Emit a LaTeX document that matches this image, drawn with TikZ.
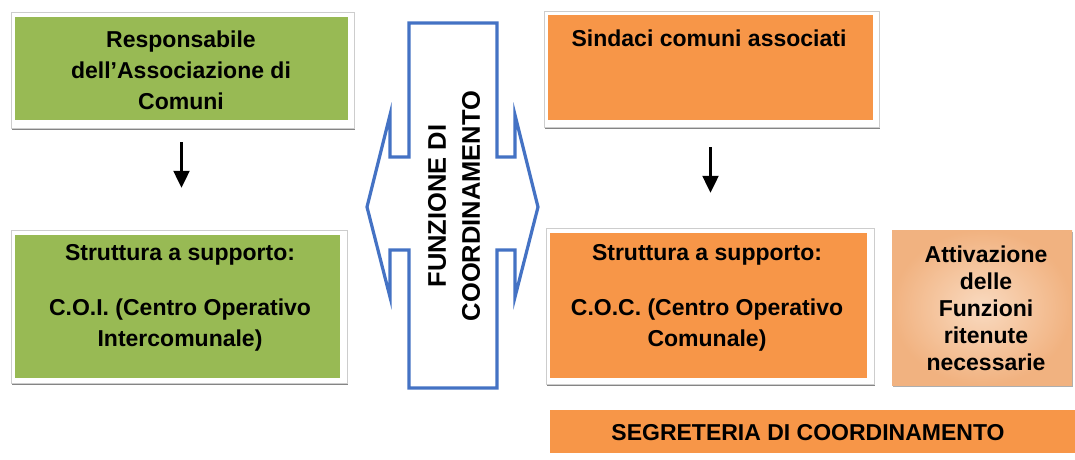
\documentclass[tikz,border=0pt]{standalone}
\usepackage{fontspec}
\setmainfont{Liberation Sans}
\usetikzlibrary{arrows.meta,shadows,calc}
\definecolor{boxgreen}{RGB}{152,186,84}
\definecolor{boxorange}{RGB}{247,150,72}
\definecolor{lightin}{RGB}{249,218,192}
\definecolor{lightout}{RGB}{241,178,128}
\definecolor{arrowblue}{RGB}{68,114,196}
\definecolor{framegray}{RGB}{205,205,205}
\definecolor{shadowgray}{RGB}{120,120,120}
\begin{document}
\begin{tikzpicture}[x=1pt,y=-1pt,
  frm/.style={draw=framegray, fill=white, line width=0.8pt,
    drop shadow={shadow xshift=0.5pt, shadow yshift=-2pt, fill=shadowgray, opacity=0.9}},
  colbox/.style={rectangle, inner sep=0pt, draw=none},
  gbox/.style={colbox, fill=boxgreen},
  obox/.style={colbox, fill=boxorange},
  lbox/.style={colbox, inner color=lightin, outer color=lightout},
  txt/.style={inner sep=0pt, align=center, font=\bfseries\fontsize{23}{31}\selectfont},
  txtsmall/.style={inner sep=0pt, align=center, font=\bfseries\fontsize{23}{27}\selectfont},
  downarrow/.style={draw=black, fill=black, line width=2.2pt, -{Triangle[length=17pt,width=16pt]}},
  bluearrow/.style={draw=arrowblue, line width=3.2pt, line join=miter, fill=white}
]
\useasboundingbox[fill=white] (0,0) rectangle (1075,459);

% frames
\path[frm] (11,12) rectangle (354,128);
\path[frm] (11,230) rectangle (347,383);
\path[frm] (544,11) rectangle (879,127);
\path[frm] (546,228) rectangle (874,384);

% green boxes
\node[gbox, minimum width=333pt, minimum height=103pt] (g1) at (181.5,68.5) {};
\node[gbox, minimum width=325pt, minimum height=143pt] (g2) at (177.5,306.5) {};
% orange boxes
\node[obox, minimum width=325pt, minimum height=105pt] (o1) at (710.5,67.5) {};
\node[obox, minimum width=317pt, minimum height=145pt] (o2) at (708.5,305.5) {};
\node[lbox, minimum width=180pt, minimum height=155pt,
  drop shadow={shadow xshift=0.5pt, shadow yshift=-2pt, fill=shadowgray, opacity=0.6}] (o3) at (982,307.5) {};
\node[obox, minimum width=525pt, minimum height=43pt] (seg) at (812.5,431.5) {};

% texts
\node[txt] (g1t) at (181,70) {Responsabile\\dell’Associazione di\\Comuni};
\node[txt] (g2t) at (180,298) {Struttura a supporto:\\[24pt]C.O.I. (Centro Operativo\\Intercomunale)};
\node[txt] (o1t) at (709,38) {Sindaci comuni associati};
\node[txt] (o2t) at (707,298) {Struttura a supporto:\\[24pt]C.O.C. (Centro Operativo\\Comunale)};
\node[txtsmall] (o3t) at (986,308.5) {Attivazione\\delle\\Funzioni\\ritenute\\necessarie};
\node[txt] (segt) at (808,433) {SEGRETERIA DI COORDINAMENTO};

% down arrows
\draw[downarrow, shorten <=22pt, shorten >=47pt] (g1.south) -- (g1.south |- g2.north);
\draw[downarrow, shorten <=27pt, shorten >=40pt] (o1.south) -- (o1.south |- o2.north);

% blue double arrow
\path[bluearrow] (409,23) -- (497,23) -- (497,157) -- (515,157) -- (515,115)
  -- (538,207) -- (515,297) -- (515,250) -- (497,250) -- (497,388)
  -- (409,388) -- (409,250) -- (390,250) -- (390,297) -- (367,207)
  -- (390,115) -- (390,157) -- (409,157) -- cycle;
\node[inner sep=0pt, align=center, rotate=90,
  font=\bfseries\fontsize{25.5}{34}\selectfont] (fc) at (454,206)
  {FUNZIONE DI\\COORDINAMENTO};
\end{tikzpicture}
\end{document}
